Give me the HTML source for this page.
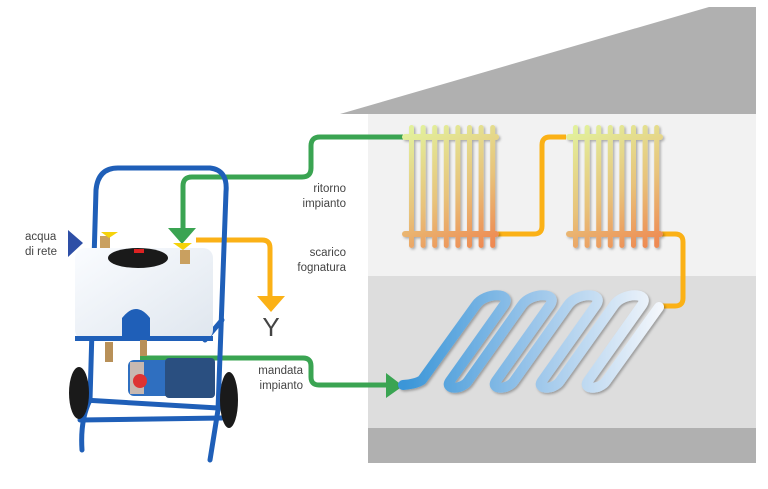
<!DOCTYPE html>
<html><head><meta charset="utf-8"><style>
html,body{margin:0;padding:0;background:#fff;width:768px;height:489px;overflow:hidden}
svg{display:block}
text{font-family:"Liberation Sans",sans-serif;font-size:11.5px;fill:#444}
</style></head><body>
<svg width="768" height="489" viewBox="0 0 768 489">
<defs>
<linearGradient id="rad" gradientUnits="userSpaceOnUse" x1="20" y1="0" x2="80" y2="123">
<stop offset="0" stop-color="#e2f09c"/><stop offset="0.55" stop-color="#e8c27a"/><stop offset="1" stop-color="#ee8a52"/>
</linearGradient>
<linearGradient id="coil" gradientUnits="userSpaceOnUse" x1="405" y1="0" x2="665" y2="0">
<stop offset="0" stop-color="#3b96d8"/><stop offset="0.5" stop-color="#9cc6ea"/><stop offset="1" stop-color="#f6f8fc"/>
</linearGradient>
<linearGradient id="tank" x1="0" y1="0" x2="1" y2="1">
<stop offset="0" stop-color="#fafcff"/><stop offset="1" stop-color="#dfe6ee"/>
</linearGradient>
<filter id="sh" x="-10%" y="-10%" width="120%" height="120%"><feDropShadow dx="1.5" dy="1.5" stdDeviation="1.2" flood-color="#000" flood-opacity="0.3"/></filter>
<g id="radg">
<g fill="url(#rad)" filter="url(#sh)">
<rect x="0" y="9" width="97" height="6" rx="3"/>
<rect x="0" y="106" width="97" height="6" rx="3"/>
<rect x="7" y="0" width="5" height="123" rx="2.5"/>
<rect x="18.6" y="0" width="5" height="123" rx="2.5"/>
<rect x="30.2" y="0" width="5" height="123" rx="2.5"/>
<rect x="41.8" y="0" width="5" height="123" rx="2.5"/>
<rect x="53.4" y="0" width="5" height="123" rx="2.5"/>
<rect x="65" y="0" width="5" height="123" rx="2.5"/>
<rect x="76.6" y="0" width="5" height="123" rx="2.5"/>
<rect x="88.2" y="0" width="5" height="123" rx="2.5"/>
</g>
</g>
</defs>
<!-- house -->
<polygon points="340,114 709,7 756,7 756,114" fill="#b0b0b0"/>
<rect x="368" y="114" width="388" height="162" fill="#f2f2f2"/>
<rect x="368" y="276" width="388" height="152" fill="#dddddd"/>
<rect x="368" y="428" width="388" height="35" fill="#b0b0b0"/>

<!-- pipes -->
<path d="M403,137 H320 q-9,0 -9,9 V168 q0,9 -9,9 H192 q-9,0 -9,9 V230" fill="none" stroke="#3aa452" stroke-width="5"/>
<polygon points="168,228 196,228 182,244" fill="#3aa452"/>
<path d="M498,234 H534 q8,0 8,-8 V145 q0,-8 8,-8 H566" fill="none" stroke="#fbb116" stroke-width="5"/>
<path d="M662,234 H675 q8,0 8,8 V298 q0,8 -8,8 H658" fill="none" stroke="#fbb116" stroke-width="5"/>
<path d="M196,240 H262 q8,0 8,8 V298" fill="none" stroke="#fbb116" stroke-width="5"/>
<polygon points="257,296 285,296 271,312" fill="#fbb116"/>
<text x="271" y="336" text-anchor="middle" style="font-size:26px;fill:#444">Y</text>
<path d="M140,358 H303 q8,0 8,8 V377 q0,8 8,8 H392" fill="none" stroke="#3aa452" stroke-width="5"/>
<polygon points="386,373 386,398 403,386" fill="#3aa452"/>

<!-- radiators -->
<use href="#radg" x="402" y="125"/>
<use href="#radg" x="566" y="125"/>

<!-- coil -->
<path d="M403,385 Q416,384 422,380
L476,305 C485,292 513,292 504,305 L450,381 C444,390 462,390 468,381
L522,305 C531,292 559,292 550,305 L496,381 C490,390 508,390 514,381
L568,305 C577,292 605,292 596,305 L542,381 C536,390 554,390 560,381
L614,305 C623,292 651,292 642,305 L588,381 C582,390 600,390 606,381
L659,307" fill="none" stroke="url(#coil)" stroke-width="10" stroke-linecap="round" stroke-linejoin="round" filter="url(#sh)"/>

<!-- labels -->
<text x="346" y="192" text-anchor="end">ritorno</text>
<text x="346" y="207" text-anchor="end">impianto</text>
<text x="346" y="256" text-anchor="end">scarico</text>
<text x="346" y="271" text-anchor="end">fognatura</text>
<text x="303" y="374" text-anchor="end">mandata</text>
<text x="303" y="389" text-anchor="end">impianto</text>
<text x="25" y="240">acqua</text>
<text x="25" y="255">di rete</text>
<polygon points="68,230 68,257 83,243" fill="#2e4fa6"/>

<!-- cart -->
<g fill="none" stroke="#1f5fb8" stroke-width="5" stroke-linecap="round">
<path d="M82,450 Q80,420 90,400 L96,190 Q98,168 118,168 L210,168 Q228,170 226,192 L218,410 L210,460"/>
<path d="M84,400 L218,408"/>
<path d="M80,420 L222,418"/>
<path d="M205,340 L222,320"/>
</g>
<rect x="75" y="248" width="138" height="92" rx="10" fill="url(#tank)"/>
<path d="M122,340 V318 Q136,300 150,318 V340 Z" fill="#1f5fb8"/>
<rect x="75" y="336" width="138" height="5" fill="#1f5fb8"/>
<ellipse cx="138" cy="258" rx="30" ry="10" fill="#1a1a1a"/>
<rect x="134" y="249" width="10" height="4" fill="#d22"/>
<rect x="100" y="236" width="10" height="12" fill="#c9a060"/>
<rect x="180" y="250" width="10" height="14" fill="#c9a060"/>
<polygon points="101,232 118,232 109,238" fill="#f5d20a"/>
<polygon points="173,243 192,243 183,250" fill="#f5d20a"/>
<rect x="105" y="342" width="8" height="20" fill="#b89058"/>
<rect x="140" y="340" width="7" height="16" fill="#b89058"/>
<rect x="128" y="360" width="50" height="36" rx="6" fill="#2f6fc0"/>
<rect x="130" y="362" width="14" height="32" fill="#c8b8b0"/>
<circle cx="140" cy="381" r="7" fill="#d33"/>
<rect x="165" y="358" width="50" height="40" rx="4" fill="#2a4f80"/>
<ellipse cx="79" cy="393" rx="10" ry="26" fill="#1a1a1a"/>
<ellipse cx="229" cy="400" rx="9" ry="28" fill="#1a1a1a"/>
</svg>
</body></html>
